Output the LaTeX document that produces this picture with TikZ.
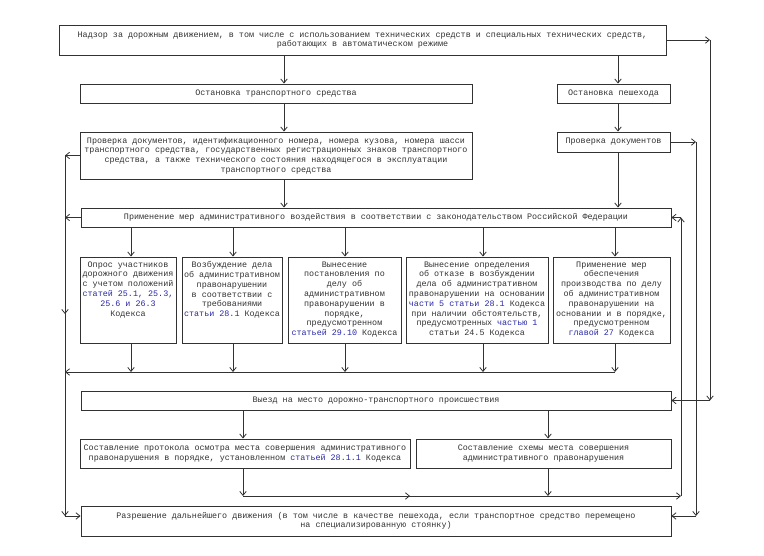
\documentclass[tikz,border=0pt]{standalone}
\usepackage{fontspec}
\setmonofont{Liberation Mono}
\usetikzlibrary{arrows.meta}
\definecolor{ink}{RGB}{50,50,50}
\definecolor{lnk}{RGB}{40,40,165}
\newcommand{\lk}[1]{\textcolor{lnk}{#1}}
\newcommand{\tbox}[3]{\parbox[c][#1][t]{#2}{\vspace{2.5pt}\centering #3}}
\begin{document}
\begin{tikzpicture}[x=1pt,y=-1pt,
  box/.style={draw=ink, line width=0.9pt, rectangle, inner sep=1pt, text=ink,
    font=\ttfamily\fontsize{8.4}{9.6}\selectfont, align=center},
  tallbox/.style={draw=ink, line width=0.9pt, rectangle, inner sep=0pt, text=ink,
    font=\ttfamily\fontsize{8.4}{9.8}\selectfont, minimum height=86pt},
  arr/.style={draw=ink, line width=0.8pt, -{Straight Barb[length=4pt,width=6.5pt]}},
  ln/.style={draw=ink, line width=0.8pt}]
\useasboundingbox (0,0) rectangle (764,556);

% boxes
\node[box, minimum width=607pt, minimum height=30pt] (top) at (362.5,40)
  {Надзор за дорожным движением, в том числе с использованием технических средств и специальных технических средств,\\ работающих в автоматическом режиме};
\node[box, minimum width=392pt, minimum height=19pt] (ostts) at (276,93.5)
  {Остановка транспортного средства};
\node[box, minimum width=113pt, minimum height=19pt] (ostped) at (613.5,93.5)
  {Остановка пешехода};
\node[box, minimum width=392pt, minimum height=47pt] (prov) at (276,155.5)
  {Проверка документов, идентификационного номера, номера кузова, номера шасси\\
   транспортного средства, государственных регистрационных знаков транспортного\\
   средства, а также технического состояния находящегося в эксплуатации\\
   транспортного средства};
\node[box, minimum width=113pt, minimum height=20pt] (provped) at (613.5,142)
  {Проверка документов};
\node[box, minimum width=590pt, minimum height=19pt] (prim) at (376,217.5)
  {Применение мер административного воздействия в соответствии с законодательством Российской Федерации};

\node[tallbox, minimum width=96pt] (b1) at (128,300)
  {\tbox{82pt}{94pt}{Опрос участников\\ дорожного движения\\ с учетом положений\\ \lk{статей 25.1, 25.3,}\\ \lk{25.6 и 26.3}\\ Кодекса}};
\node[tallbox, minimum width=100pt] (b2) at (232,300)
  {\tbox{82pt}{98pt}{Возбуждение дела\\ об административном\\ правонарушении\\ в соответствии с\\ требованиями\\ \lk{статьи 28.1} Кодекса}};
\node[tallbox, minimum width=113pt] (b3) at (344.5,300)
  {\tbox{82pt}{111pt}{Вынесение\\ постановления по\\ делу об\\ административном\\ правонарушении в\\ порядке,\\ предусмотренном\\ \lk{статьей 29.10} Кодекса}};
\node[tallbox, minimum width=142pt] (b4) at (477,300)
  {\tbox{82pt}{140pt}{Вынесение определения\\ об отказе в возбуждении\\ дела об административном\\ правонарушении на основании\\ \lk{части 5 статьи 28.1} Кодекса\\ при наличии обстоятельств,\\ предусмотренных \lk{частью 1}\\ статьи 24.5 Кодекса}};
\node[tallbox, minimum width=117pt] (b5) at (611.5,300)
  {\tbox{82pt}{115pt}{Применение мер\\ обеспечения\\ производства по делу\\ об административном\\ правонарушении на\\ основании и в порядке,\\ предусмотренном\\ \lk{главой 27} Кодекса}};

\node[box, minimum width=590pt, minimum height=19pt] (vyezd) at (376,400.5)
  {Выезд на место дорожно-транспортного происшествия};
\node[box, minimum width=330pt, minimum height=29pt] (prot) at (245,453.5)
  {Составление протокола осмотра места совершения административного\\
   правонарушения в порядке, установленном \lk{статьей 28.1.1} Кодекса};
\node[box, minimum width=255pt, minimum height=29pt] (shema) at (543.5,453.5)
  {Составление схемы места совершения\\ административного правонарушения};
\node[box, minimum width=590pt, minimum height=30pt] (razr) at (376,521)
  {Разрешение дальнейшего движения (в том числе в качестве пешехода, если транспортное средство перемещено\\
   на специализированную стоянку)};

% helper coordinates
\coordinate (A1) at (284,0);
\coordinate (A2) at (618,0);
\coordinate (X1) at (131,0);
\coordinate (X2) at (233,0);
\coordinate (X3) at (345,0);
\coordinate (X4) at (483,0);
\coordinate (X5) at (615,0);
\coordinate (V1) at (243,0);
\coordinate (V2) at (548,0);
\coordinate (Cy) at (0,372);
\coordinate (R1a) at (710,40);
\coordinate (R1b) at (710,400.5);
\coordinate (R2a) at (696,142);
\coordinate (R2b) at (696,516);
\coordinate (L1) at (65,155.5);
\coordinate (L2) at (65,217.5);
\coordinate (L3) at (65,372);
\coordinate (Lm) at (65,314);
\coordinate (L4) at (65,516);
\coordinate (B1) at (243,496);
\coordinate (Bm) at (410,496);
\coordinate (B2) at (681,496);
\coordinate (B3) at (681,217.5);

% vertical flow
\draw[arr] (top.south -| A1) -- (ostts.north -| A1);
\draw[arr] (top.south -| A2) -- (ostped.north -| A2);
\draw[arr] (ostts.south -| A1) -- (prov.north -| A1);
\draw[arr] (ostped.south -| A2) -- (provped.north -| A2);
\draw[arr] (prov.south -| A1) -- (prim.north -| A1);
\draw[arr] (provped.south -| A2) -- (prim.north -| A2);

\draw[arr] (prim.south -| X1) -- (b1.north -| X1);
\draw[arr] (prim.south -| X2) -- (b2.north -| X2);
\draw[arr] (prim.south -| X3) -- (b3.north -| X3);
\draw[arr] (prim.south -| X4) -- (b4.north -| X4);
\draw[arr] (prim.south -| X5) -- (b5.north -| X5);

\draw[arr] (b1.south -| X1) -- (X1 |- Cy);
\draw[arr] (b2.south -| X2) -- (X2 |- Cy);
\draw[arr] (b3.south -| X3) -- (X3 |- Cy);
\draw[arr] (b4.south -| X4) -- (X4 |- Cy);
\draw[arr] (b5.south -| X5) -- (X5 |- Cy);
\draw[arr] (X5 |- Cy) -- (L3);

\draw[arr] (vyezd.south -| V1) -- (prot.north -| V1);
\draw[arr] (vyezd.south -| V2) -- (shema.north -| V2);
\draw[arr] (prot.south -| V1) -- (B1);
\draw[arr] (shema.south -| V2) -- (V2 |- B1);
\draw[arr] (B1) -- (Bm);
\draw[arr] (B1) -- (B2);
\draw[arr] (B2) -- (B3);
\draw[arr] (B3) -- (prim.east);

% right side lines
\draw[arr] (top.east) -- (R1a);
\draw[arr] (R1a) -- (R1b);
\draw[arr] (R1b) -- (vyezd.east);
\draw[arr] (provped.east) -- (R2a);
\draw[arr] (R2a) -- (R2b);
\draw[arr] (R2b) -- (R2b -| razr.east);

% left side line
\draw[arr] (prov.west) -- (L1);
\draw[arr] (prim.west) -- (L2);
\draw[ln] (L1) -- (L4);
\draw[arr] (L2) -- (Lm);
\draw[arr] (L3) -- (L4);
\draw[arr] (L4) -- (L4 -| razr.west);
\end{tikzpicture}
\end{document}
